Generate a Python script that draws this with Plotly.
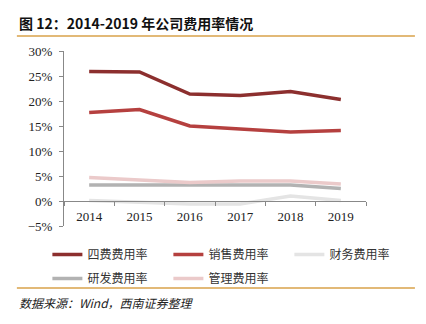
import plotly.graph_objects as go

years = ["2014", "2015", "2016", "2017", "2018", "2019"]
four_fee = [25.9, 25.8, 21.4, 21.1, 21.9, 20.3]
sales_fee = [17.7, 18.3, 15.0, 14.4, 13.8, 14.1]
fin_fee = [0.1, -0.2, -0.6, -0.6, 1.0, 0.1]
rd_fee = [3.2, 3.2, 3.1, 3.2, 3.2, 2.5]
admin_fee = [4.7, 4.2, 3.7, 4.0, 4.0, 3.4]

names = ["四费费用率", "销售费用率", "财务费用率", "研发费用率", "管理费用率"]
series = [four_fee, sales_fee, fin_fee, rd_fee, admin_fee]
colors = ["#8C2F2E", "#B5403F", "#E4E4E4", "#B2B2B2", "#EBCACA"]
legend_ids = ["legend", "legend", "legend", "legend2", "legend2"]

fig = go.Figure()
for n, s, c, lg in zip(names, series, colors, legend_ids):
    fig.add_trace(go.Scatter(x=years, y=s, name=n, mode="lines", legend=lg,
                             line=dict(color=c, width=3.5)))

serif = "Liberation Serif, Times New Roman, serif"
cjk = "Noto Sans CJK SC"
legfont = dict(family=cjk, size=12, color="#333")

fig.update_layout(
    width=426, height=324,
    margin=dict(l=64, r=60, t=51, b=98),
    plot_bgcolor="white", paper_bgcolor="white",
    showlegend=True,
    legend=dict(orientation="h", x=-0.055, y=-0.08, xanchor="left", yanchor="top",
                entrywidth=76, entrywidthmode="pixels", font=legfont,
                bgcolor="rgba(0,0,0,0)"),
    legend2=dict(orientation="h", x=-0.055, y=-0.217, xanchor="left", yanchor="top",
                 entrywidth=76, entrywidthmode="pixels", font=legfont,
                 bgcolor="rgba(0,0,0,0)"),
    xaxis=dict(type="category", anchor="free", position=5/35, range=[-0.5, 5.5],
               showline=True, linecolor="#888", linewidth=1,
               ticks="outside", tickson="boundaries", ticklen=4, tickcolor="#888",
               ticklabelstandoff=3,
               showgrid=False, tickfont=dict(family=serif, size=13, color="#222")),
    yaxis=dict(range=[-5, 30], dtick=5, ticksuffix="%", showgrid=False,
               showline=True, linecolor="#888", linewidth=1,
               ticks="outside", ticklen=4, tickcolor="#888", zeroline=False,
               ticklabelstandoff=4,
               tickfont=dict(family=serif, size=13, color="#222")),
)

fig.add_annotation(text="<b>图 12：2014-2019 年公司费用率情况</b>", xref="paper", yref="paper",
                   x=-0.155, y=1.16, xanchor="left", yanchor="middle", showarrow=False,
                   font=dict(family=cjk, size=14, color="#111"))
fig.add_annotation(text="<i>数据来源：Wind，西南证券整理</i>", xref="paper", yref="paper",
                   x=-0.155, y=-0.435, xanchor="left", yanchor="middle", showarrow=False,
                   font=dict(family=cjk, size=12, color="#222"))
fig.add_shape(type="line", xref="paper", yref="paper", x0=-0.156, x1=1.162, y0=1.086, y1=1.086,
              line=dict(color="#D9A24A", width=1.5))
fig.add_shape(type="line", xref="paper", yref="paper", x0=-0.156, x1=1.162, y0=-0.354, y1=-0.354,
              line=dict(color="#D9A24A", width=1.5))

fig.write_html("out.html")
